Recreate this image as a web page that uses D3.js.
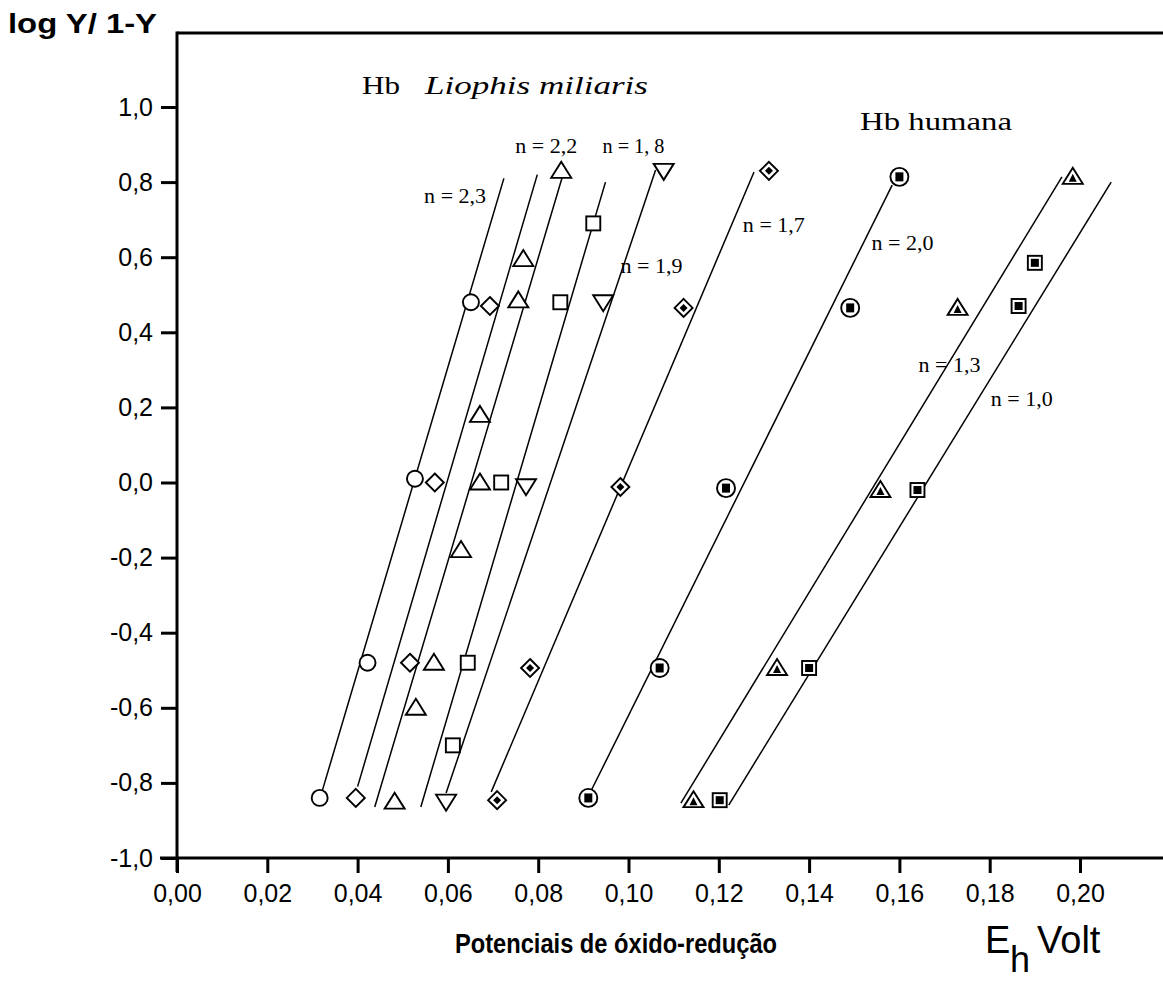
<!DOCTYPE html>
<html><head><meta charset="utf-8">
<script src="https://cdn.jsdelivr.net/npm/d3@7"></script>
<style>body{margin:0;background:#fff}svg{display:block}</style>
</head><body>
<svg id="chart" width="1163" height="988"></svg>
<script>
// ---------- data ----------
const xTickValues = [0, 0.02, 0.04, 0.06, 0.08, 0.10, 0.12, 0.14, 0.16, 0.18, 0.20];
const xTickLabels = ["0,00","0,02","0,04","0,06","0,08","0,10","0,12","0,14","0,16","0,18","0,20"];
const yTickValues = [-1.0,-0.8,-0.6,-0.4,-0.2,0.0,0.2,0.4,0.6,0.8,1.0];
const yTickLabels = ["-1,0","-0,8","-0,6","-0,4","-0,2","0,0","0,2","0,4","0,6","0,8","1,0"];

// Liophis miliaris series
const circleX = [0.0651, 0.0527, 0.0422, 0.0316];
const circleY = [0.48, 0.01, -0.48, -0.84];
const circleLine = [[0.0322, -0.82], [0.0724, 0.81]];

const diamondX = [0.0693, 0.0571, 0.0516, 0.0396];
const diamondY = [0.47, 0.0, -0.48, -0.84];
const diamondLine = [[0.0400, -0.81], [0.0798, 0.82]];

const triangleX = [0.0851, 0.0767, 0.0756, 0.0671, 0.0671, 0.0629, 0.0569, 0.0529, 0.0482];
const triangleY = [0.83, 0.595, 0.485, 0.18, 0.0, -0.18, -0.48, -0.60, -0.85];
const triangleLine = [[0.0438, -0.864], [0.0856, 0.824]];

const squareX = [0.0922, 0.0849, 0.0718, 0.0644, 0.0611];
const squareY = [0.69, 0.48, 0.0, -0.48, -0.70];
const squareLine = [[0.0540, -0.864], [0.0949, 0.80]];

const downTriX = [0.1078, 0.0944, 0.0773, 0.0596];
const downTriY = [0.83, 0.48, -0.01, -0.85];
const downTriLine = [[0.0596, -0.827], [0.1060, 0.832]];

const dotDiamondX = [0.1311, 0.1122, 0.0982, 0.0782, 0.0709];
const dotDiamondY = [0.83, 0.465, -0.012, -0.494, -0.846];
const dotDiamondLine = [[0.0696, -0.824], [0.1278, 0.827]];

// Hb humana series
const dotCircleX = [0.1600, 0.1491, 0.1216, 0.1069, 0.0911];
const dotCircleY = [0.814, 0.465, -0.015, -0.494, -0.84];
const dotCircleLine = [[0.0918, -0.819], [0.1584, 0.792]];

const dotTriX = [0.1984, 0.1729, 0.1558, 0.1329, 0.1144];
const dotTriY = [0.814, 0.465, -0.02, -0.494, -0.846];
const dotTriLine = [[0.1116, -0.854], [0.1960, 0.814]];

const dotSquareX = [0.1900, 0.1864, 0.1640, 0.1400, 0.1202];
const dotSquareY = [0.585, 0.47, -0.02, -0.494, -0.846];
const dotSquareLine = [[0.1222, -0.859], [0.2069, 0.80]];

// line labels
const nLabels = ["n = 2,3", "n = 2,2", "n = 1, 8", "n = 1,9", "n = 1,7", "n = 2,0", "n = 1,3", "n = 1,0"];
const nLabelX = [0.0616, 0.0818, 0.1011, 0.1051, 0.1322, 0.1607, 0.1711, 0.1871];
const nLabelY = [0.76, 0.893, 0.893, 0.574, 0.683, 0.635, 0.31, 0.22];

// ---------- layout ----------
const svg = d3.select("#chart");
const x = d3.scaleLinear().domain([0, 0.2]).range([177, 1080]);
const y = d3.scaleLinear().domain([-1, 1]).range([858, 107]);
const axisX0 = 177, plotTop = 33, plotRight = 1163;
const sans = "'Liberation Sans', Arial, sans-serif";
const serif = "'Liberation Serif', 'Times New Roman', serif";

// frame lines
svg.append("line").attr("x1", axisX0).attr("x2", plotRight).attr("y1", plotTop).attr("y2", plotTop)
  .attr("stroke", "#000").attr("stroke-width", 3);
svg.append("line").attr("x1", axisX0).attr("x2", axisX0).attr("y1", plotTop - 1.5).attr("y2", 872)
  .attr("stroke", "#000").attr("stroke-width", 3);
svg.append("line").attr("x1", 160).attr("x2", plotRight).attr("y1", y(-1)).attr("y2", y(-1))
  .attr("stroke", "#000").attr("stroke-width", 3);

// x axis
const gx = svg.append("g").attr("transform", `translate(0,${y(-1)})`)
  .call(d3.axisBottom(x).tickValues(xTickValues).tickSize(15)
    .tickFormat((d, i) => xTickLabels[i]));
gx.select(".domain").remove();
gx.selectAll(".tick line").attr("stroke", "#000").attr("stroke-width", 3);
gx.selectAll(".tick text").attr("font-family", sans).attr("font-size", 25).attr("fill", "#000")
  .attr("dy", "0.95em").attr("y", 20);

// y axis
const gy = svg.append("g").attr("transform", `translate(${axisX0},0)`)
  .call(d3.axisLeft(y).tickValues(yTickValues).tickSize(16)
    .tickFormat((d, i) => yTickLabels[i]));
gy.select(".domain").remove();
gy.selectAll(".tick line").attr("stroke", "#000").attr("stroke-width", 3);
gy.selectAll(".tick text").attr("font-family", sans).attr("font-size", 25).attr("fill", "#000")
  .attr("x", -24);

// ---------- fit lines ----------
const fitLines = [circleLine, diamondLine, triangleLine, squareLine, downTriLine,
  dotDiamondLine, dotCircleLine, dotTriLine, dotSquareLine];
const lineGen = d3.line().x(d => x(d[0])).y(d => y(d[1]));
svg.append("g").selectAll("path").data(fitLines).join("path")
  .attr("d", lineGen).attr("fill", "none").attr("stroke", "#000").attr("stroke-width", 1.5);

// ---------- markers ----------
function drawMarkers(xs, ys, type) {
  const g = svg.append("g");
  xs.forEach((xv, i) => {
    const m = g.append("g").attr("transform", `translate(${x(xv)},${y(ys[i])})`);
    const st = sel => sel.attr("fill", "#fff").attr("stroke", "#000").attr("stroke-width", 1.9);
    if (type === "circle") st(m.append("circle").attr("r", 8));
    if (type === "diamond") st(m.append("path").attr("d", "M0,-9L9,0L0,9L-9,0Z"));
    if (type === "triangle") st(m.append("path").attr("d", "M0,-9L10,7L-10,7Z"));
    if (type === "square") st(m.append("rect").attr("x", -7).attr("y", -7).attr("width", 14).attr("height", 14));
    if (type === "downTri") st(m.append("path").attr("d", "M-10,-7L10,-7L0,9Z"));
    if (type === "dotDiamond") {
      st(m.append("path").attr("d", "M0,-9L9,0L0,9L-9,0Z"));
      m.append("path").attr("d", "M0,-4L4,0L0,4L-4,0Z").attr("fill", "#000");
    }
    if (type === "dotCircle") {
      st(m.append("circle").attr("r", 9));
      m.append("rect").attr("x", -4).attr("y", -4.5).attr("width", 8).attr("height", 9).attr("fill", "#000");
    }
    if (type === "dotTri") {
      st(m.append("path").attr("d", "M0,-9L10,7L-10,7Z"));
      m.append("path").attr("d", "M0,-3L4,5L-4,5Z").attr("fill", "#000");
    }
    if (type === "dotSquare") {
      st(m.append("rect").attr("x", -7).attr("y", -7).attr("width", 14).attr("height", 14));
      m.append("rect").attr("x", -4).attr("y", -4).attr("width", 8).attr("height", 8).attr("fill", "#000");
    }
  });
}
drawMarkers(circleX, circleY, "circle");
drawMarkers(diamondX, diamondY, "diamond");
drawMarkers(triangleX, triangleY, "triangle");
drawMarkers(squareX, squareY, "square");
drawMarkers(downTriX, downTriY, "downTri");
drawMarkers(dotDiamondX, dotDiamondY, "dotDiamond");
drawMarkers(dotCircleX, dotCircleY, "dotCircle");
drawMarkers(dotTriX, dotTriY, "dotTri");
drawMarkers(dotSquareX, dotSquareY, "dotSquare");

// ---------- text ----------
svg.append("g").selectAll("text").data(nLabels).join("text")
  .attr("x", (d, i) => x(nLabelX[i])).attr("y", (d, i) => y(nLabelY[i]) + 6)
  .attr("text-anchor", "middle").attr("font-family", serif).attr("font-size", 20)
  .attr("textLength", 62).attr("lengthAdjust", "spacingAndGlyphs").text(d => d);

svg.append("text").attr("x", 362).attr("y", 94).attr("font-family", serif).attr("font-size", 26)
  .attr("textLength", 38).attr("lengthAdjust", "spacingAndGlyphs").text("Hb");
svg.append("text").attr("x", 425).attr("y", 94).attr("font-family", serif).attr("font-size", 26)
  .attr("font-style", "italic").attr("textLength", 223).attr("lengthAdjust", "spacingAndGlyphs")
  .text("Liophis miliaris");
svg.append("text").attr("x", 860).attr("y", 130).attr("font-family", serif).attr("font-size", 26)
  .attr("textLength", 152).attr("lengthAdjust", "spacingAndGlyphs").text("Hb humana");

svg.append("text").attr("x", 8).attr("y", 33).attr("font-family", sans).attr("font-size", 27)
  .attr("font-weight", "bold").attr("textLength", 149).attr("lengthAdjust", "spacingAndGlyphs")
  .text("log Y/ 1-Y");

svg.append("text").attr("x", 455).attr("y", 953).attr("font-family", sans).attr("font-size", 28)
  .attr("font-weight", "bold").attr("textLength", 322).attr("lengthAdjust", "spacingAndGlyphs")
  .text("Potenciais de óxido-redução");
svg.append("text").attr("x", 985).attr("y", 953).attr("font-family", sans).attr("font-size", 38).text("E");
svg.append("text").attr("x", 1010).attr("y", 972).attr("font-family", sans).attr("font-size", 36).text("h");
svg.append("text").attr("x", 1037).attr("y", 953).attr("font-family", sans).attr("font-size", 38).text("Volt");
</script>
</body></html>
